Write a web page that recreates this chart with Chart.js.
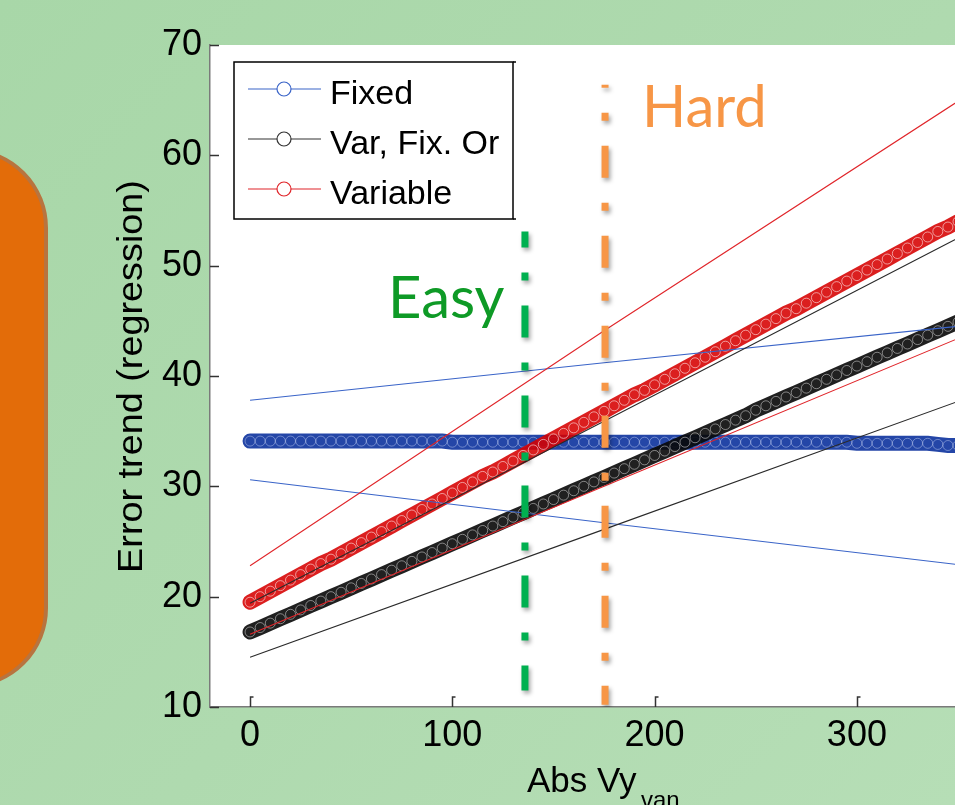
<!DOCTYPE html>
<html>
<head>
<meta charset="utf-8">
<script src="https://cdn.jsdelivr.net/npm/chart.js@4.4.0/dist/chart.umd.min.js"></script>
<style>
  html, body { margin: 0; padding: 0; }
  body {
    width: 955px; height: 805px; overflow: hidden; position: relative;
    background: linear-gradient(135deg, #a8d7a8 0%, #afdaaf 55%, #b6deb6 100%);
  }
  #tab {
    position: absolute; left: -120px; top: 148px; width: 160px; height: 532px;
    background: #e36c09; border: 4px solid #b8743f; border-radius: 80px;
  }
  #wrap { position: absolute; left: 0; top: 0; width: 955px; height: 805px; }
</style>
</head>
<body>
<div id="tab"></div>
<div id="wrap"><canvas id="c" width="955" height="805"></canvas></div>
<script>
// x positions of the marker series (Abs Vy_van)
const markX = [0, 5, 10, 15, 20, 25, 30, 35, 40, 45, 50, 55, 60, 65, 70, 75, 80, 85, 90, 95,
  100, 105, 110, 115, 120, 125, 130, 135, 140, 145, 150, 155, 160, 165, 170, 175, 180, 185, 190, 195,
  200, 205, 210, 215, 220, 225, 230, 235, 240, 245, 250, 255, 260, 265, 270, 275, 280, 285, 290, 295,
  300, 305, 310, 315, 320, 325, 330, 335, 340, 345, 350];

const fixedMarks = [34.1, 34.1, 34.1, 34.1, 34.1, 34.1, 34.1, 34.1, 34.1, 34.1, 34.1, 34.1, 34.1, 34.1, 34.1, 34.1, 34.1, 34.1, 34.1, 34.1,
  34.0, 34.0, 34.0, 34.0, 34.0, 34.0, 34.0, 34.0, 34.0, 34.0, 34.0, 34.0, 34.0, 34.0, 34.0, 34.0, 34.0, 34.0, 34.0, 34.0,
  34.0, 34.0, 34.0, 34.0, 34.0, 34.0, 34.0, 34.0, 34.0, 34.0, 34.0, 34.0, 34.0, 34.0, 34.0, 34.0, 34.0, 34.0, 34.0, 34.0,
  33.9, 33.9, 33.9, 33.9, 33.9, 33.9, 33.9, 33.9, 33.8, 33.7, 33.7];

const varFixMarks = [16.8, 17.2, 17.6, 18.0, 18.4, 18.8, 19.2, 19.6, 20.0, 20.4, 20.8, 21.2, 21.6, 22.0, 22.4, 22.8, 23.2, 23.6, 24.0, 24.4,
  24.8, 25.2, 25.6, 26.0, 26.4, 26.8, 27.2, 27.6, 28.0, 28.4, 28.8, 29.2, 29.6, 30.0, 30.4, 30.8, 31.2, 31.6, 32.0, 32.4,
  32.8, 33.2, 33.6, 34.0, 34.4, 34.8, 35.2, 35.6, 36.0, 36.4, 36.9, 37.3, 37.7, 38.1, 38.5, 38.9, 39.3, 39.7, 40.1, 40.5,
  40.9, 41.3, 41.7, 42.1, 42.5, 42.9, 43.3, 43.7, 44.1, 44.5, 44.9];

const variableMarks = [19.5, 20.0, 20.5, 21.0, 21.5, 22.0, 22.5, 23.0, 23.4, 23.9, 24.4, 24.9, 25.4, 25.9, 26.4, 26.9, 27.4, 27.9, 28.4, 28.9,
  29.4, 29.9, 30.4, 30.9, 31.3, 31.8, 32.3, 32.8, 33.3, 33.8, 34.3, 34.8, 35.3, 35.8, 36.3, 36.8, 37.3, 37.8, 38.3, 38.7,
  39.2, 39.7, 40.2, 40.7, 41.2, 41.7, 42.2, 42.7, 43.2, 43.7, 44.2, 44.7, 45.2, 45.7, 46.1, 46.6, 47.1, 47.6, 48.1, 48.6,
  49.1, 49.6, 50.1, 50.6, 51.1, 51.6, 52.1, 52.6, 53.1, 53.5, 54.0];

// thin bound lines
const boundX = [0, 175, 350];
const fixedHi = [37.8, 41.2, 44.5];
const fixedLo = [30.6, 26.7, 22.9];
const varFixHi = [19.4, 35.9, 52.5];
const varFixLo = [14.5, 26.1, 37.7];
const variableHi = [22.8, 44.1, 64.9];
const variableLo = [16.6, 30.0, 43.4];

// Easy / Hard markers: x position, top and bottom of the dashed line
const easyX = 135.9, easyY = [53.1, 11.5];
const hardX = 175.5, hardY = [66.4, 10.2];

const xTicks = [0, 100, 200, 300];
const yTicks = [10, 20, 30, 40, 50, 60, 70];

const legendItems = [
  { label: "Fixed", color: "#3a64c8" },
  { label: "Var, Fix. Or", color: "#333333" },
  { label: "Variable", color: "#e0252a" },
];

const pts = (xs, ys) => ys.map((y, i) => ({ x: xs[i], y }));
const FONT = "'Liberation Sans', Arial, sans-serif";

// dense ring markers: solid band with light ring texture on top
function markerSet(label, ys, band, ring, order) {
  return {
    label, data: pts(markX, ys), showLine: true, order,
    borderColor: band, borderWidth: 15, borderCapStyle: "round", tension: 0,
    pointRadius: 5, pointStyle: "circle", pointBorderWidth: 1,
    pointBorderColor: ring, pointBackgroundColor: "rgba(255,255,255,0)",
  };
}

function thinSet(label, ys, color) {
  return {
    label, data: pts(boundX, ys), showLine: true, order: 1,
    borderColor: color, borderWidth: 1.1, pointRadius: 0, tension: 0,
  };
}

function dashSet(label, x, ys, color, offset) {
  return {
    label, data: pts([x, x], ys), showLine: true, order: 0, shadow: true,
    borderColor: color, borderWidth: 7, pointRadius: 0,
    borderDash: [32, 25, 8, 25], borderDashOffset: offset, borderCapStyle: "butt",
  };
}

const datasets = [
  dashSet("easy", easyX, easyY, "#00b050", 16),
  dashSet("hard", hardX, hardY, "#f79646", 29),
  thinSet("Variable hi", variableHi, "#e0252a"),
  thinSet("Variable lo", variableLo, "#e0252a"),
  thinSet("Var hi", varFixHi, "#2a2a2a"),
  thinSet("Var lo", varFixLo, "#2a2a2a"),
  thinSet("Fixed hi", fixedHi, "#3a64c8"),
  thinSet("Fixed lo", fixedLo, "#3a64c8"),
  markerSet("Variable", variableMarks, "rgba(214,0,0,0.88)", "rgba(255,235,235,0.6)", 2),
  markerSet("Var, Fix. Or", varFixMarks, "rgba(8,8,8,0.9)", "rgba(255,255,255,0.45)", 3),
  markerSet("Fixed", fixedMarks, "rgba(24,60,162,0.95)", "rgba(220,230,255,0.4)", 4),
];

const paper = {
  id: "paper",
  beforeDraw(chart) {
    const { ctx, chartArea: a } = chart;
    ctx.save();
    ctx.fillStyle = "#ffffff";
    ctx.fillRect(a.left, a.top, a.right - a.left, a.bottom - a.top);
    ctx.restore();
  },
  beforeDatasetDraw(chart, args) {
    if (!chart.data.datasets[args.index].shadow) return;
    const ctx = chart.ctx;
    ctx.save();
    ctx.shadowColor = "rgba(0,0,0,0.35)";
    ctx.shadowBlur = 4;
    ctx.shadowOffsetX = 2;
    ctx.shadowOffsetY = 3;
  },
  afterDatasetDraw(chart, args) {
    if (chart.data.datasets[args.index].shadow) chart.ctx.restore();
  },
  afterDraw(chart) {
    const { ctx, chartArea: a, scales } = chart;
    ctx.save();

    // inner tick marks
    ctx.strokeStyle = "#333";
    ctx.lineWidth = 1.5;
    for (const v of yTicks) {
      const py = Math.round(scales.y.getPixelForValue(v)) + 0.5;
      ctx.beginPath(); ctx.moveTo(a.left, py); ctx.lineTo(a.left + 9, py); ctx.stroke();
    }
    for (const v of xTicks) {
      const px = Math.round(scales.x.getPixelForValue(v)) + 0.5;
      ctx.beginPath(); ctx.moveTo(px, a.bottom); ctx.lineTo(px, a.bottom - 10); ctx.lineTo(px + 3, a.bottom - 10); ctx.stroke();
    }

    // legend
    const lx = 234, ly = 62, lw = 279, lh = 157;
    ctx.fillStyle = "#fff";
    ctx.fillRect(lx, ly, lw, lh);
    ctx.strokeStyle = "#000";
    ctx.lineWidth = 1.5;
    ctx.strokeRect(lx, ly, lw, lh);
    ctx.beginPath();
    ctx.moveTo(lx + lw, ly); ctx.lineTo(lx + lw + 3, ly);
    ctx.moveTo(lx + lw, ly + lh); ctx.lineTo(lx + lw + 3, ly + lh);
    ctx.stroke();
    legendItems.forEach((it, i) => {
      const ry = 89 + i * 50;
      ctx.strokeStyle = it.color;
      ctx.lineWidth = 1.2;
      ctx.beginPath(); ctx.moveTo(248, ry); ctx.lineTo(321, ry); ctx.stroke();
      ctx.beginPath(); ctx.arc(284, ry, 7, 0, Math.PI * 2);
      ctx.fillStyle = "#fff"; ctx.fill(); ctx.stroke();
      ctx.fillStyle = "#000";
      ctx.font = "34px " + FONT;
      ctx.textAlign = "left";
      ctx.textBaseline = "alphabetic";
      ctx.fillText(it.label, 330, ry + 15);
    });

    // axis titles
    ctx.fillStyle = "#000";
    ctx.font = "35px " + FONT;
    ctx.textAlign = "left";
    ctx.fillText("Abs Vy", 527, 792);
    ctx.font = "24px " + FONT;
    ctx.fillText("van", 641, 808);

    ctx.save();
    ctx.translate(142, 376.5);
    ctx.rotate(-Math.PI / 2);
    ctx.scale(1.08, 1);
    ctx.font = "35px " + FONT;
    ctx.textAlign = "center";
    ctx.fillText("Error trend (regression)", 0, 0);
    ctx.restore();

    // region labels
    ctx.font = "58px Lato, 'Open Sans', sans-serif";
    ctx.textAlign = "left";
    ctx.fillStyle = "#0e9a26";
    ctx.fillText("Easy", 388, 318);
    ctx.fillStyle = "#f79646";
    ctx.fillText("Hard", 642, 127);

    ctx.restore();
  },
};

new Chart(document.getElementById("c"), {
  type: "scatter",
  data: { datasets },
  options: {
    responsive: false,
    animation: false,
    events: [],
    layout: { autoPadding: false, padding: { top: 45, right: 0, bottom: 0, left: 0 } },
    plugins: { legend: { display: false }, tooltip: { enabled: false } },
    scales: {
      x: {
        type: "linear", min: -19.8, max: 348.5,
        grid: { display: false, drawTicks: false },
        border: { display: true, color: "#7a7a7a", width: 1.5 },
        ticks: { stepSize: 100, includeBounds: false, color: "#000", padding: 7, maxRotation: 0, font: { family: FONT, size: 36 } },
        afterFit: (s) => { s.height = 98; },
      },
      y: {
        type: "linear", min: 10, max: 70,
        grid: { display: false, drawTicks: false },
        border: { display: true, color: "#7a7a7a", width: 1.5 },
        ticks: { stepSize: 10, color: "#000", padding: 8, font: { family: FONT, size: 36 } },
        afterFit: (s) => { s.width = 210; },
      },
    },
  },
  plugins: [paper],
});
</script>
</body>
</html>
